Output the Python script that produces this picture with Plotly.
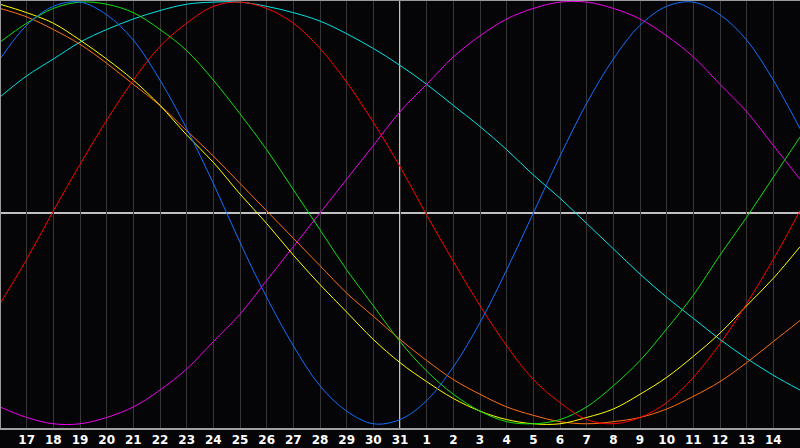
import plotly.graph_objects as go

# day-of-month labels across the window (16th .. 15th of next month)
days = ["16", "17", "18", "19", "20", "21", "22", "23", "24", "25", "26",
        "27", "28", "29", "30", "31", "1", "2", "3", "4", "5", "6", "7",
        "8", "9", "10", "11", "12", "13", "14", "15"]

# cycle values in percent, one per day
physical = [73, 89, 98, 100, 94, 82, 63, 40, 14, -14, -40, -63, -82, -94, -100, -98,
            -89, -73, -52, -27, 0, 27, 52, 73, 89, 98, 100, 94, 82, 63, 40]
emotional = [-43, -22, 1, 23, 44, 63, 79, 90, 98, 100, 97, 90, 78, 62, 43, 22,
             -1, -23, -44, -63, -79, -90, -98, -100, -97, -90, -78, -62, -43, -22, 1]
intellectual = [81, 90, 97, 100, 99, 95, 87, 77, 63, 47, 30, 11, -8, -27, -44, -61,
                -75, -86, -94, -99, -100, -98, -92, -82, -70, -55, -39, -20, -2, 17, 36]
intuitive = [-92, -97, -100, -100, -97, -92, -84, -74, -61, -48, -32, -16, 0, 16, 32, 48,
             61, 74, 84, 92, 97, 100, 100, 97, 92, 84, 74, 61, 48, 32, 16]
aesthetic = [99, 95, 90, 82, 73, 63, 51, 37, 24, 9, -5, -20, -34, -47, -60, -71,
             -80, -88, -94, -98, -100, -100, -97, -93, -86, -78, -68, -57, -44, -31, -16]
awareness = [97, 93, 87, 80, 71, 61, 51, 39, 27, 14, 1, -12, -25, -38, -49, -60,
             -70, -79, -86, -92, -96, -99, -100, -99, -97, -93, -87, -80, -71, -61, -51]
spiritual = [55, 65, 73, 81, 87, 92, 96, 99, 100, 100, 98, 95, 91, 85, 78, 70,
             61, 51, 41, 30, 18, 7, -5, -17, -29, -40, -50, -60, -69, -77, -84]

x = list(range(len(days)))
today = days.index("31")

series = [
    ("Spiritual", spiritual, "#00e4e4"),
    ("Intuitive", intuitive, "#f000f0"),
    ("Awareness", awareness, "#ff7010"),
    ("Aesthetic", aesthetic, "#ffff00"),
    ("Intellectual", intellectual, "#10e010"),
    ("Emotional", emotional, "#ff0000"),
    ("Physical", physical, "#1070ff"),
]

fig = go.Figure()
for name, vals, col in series:
    fig.add_trace(go.Scatter(
        x=x, y=vals, name=name, mode="lines",
        line=dict(color=col, width=1, shape="spline", smoothing=1),
        hoverinfo="skip"
    ))

# centre lines
fig.add_shape(type="line", xref="paper", x0=0, x1=1, yref="y", y0=0, y1=0,
              line=dict(color="white", width=1.5), layer="below")
fig.add_shape(type="line", xref="x", x0=today, x1=today, yref="paper", y0=0, y1=1,
              line=dict(color="white", width=1.5), layer="below")
# frame
fig.add_shape(type="line", xref="paper", x0=0, x1=0, yref="paper", y0=0, y1=1,
              line=dict(color="#9a9a9a", width=2))
fig.add_shape(type="line", xref="paper", x0=0, x1=1, yref="paper", y0=1, y1=1,
              line=dict(color="#9a9a9a", width=2))

fig.update_layout(
    width=800, height=448,
    margin=dict(l=0, r=0, t=0, b=20),
    paper_bgcolor="#050508",
    plot_bgcolor="#050508",
    showlegend=False,
    xaxis=dict(
        range=[0, 30], tickmode="array",
        tickvals=x[1:-1], ticktext=days[1:-1],
        showgrid=True, gridcolor="#363636", gridwidth=1,
        zeroline=False, showline=True, linecolor="#a0a0a0", linewidth=2,
        ticks="", ticklen=0,
        tickfont=dict(family="DejaVu Sans", size=12, color="white", weight="bold"),
    ),
    yaxis=dict(
        range=[-102, 101], showgrid=False, zeroline=False,
        showticklabels=False, ticks="",
    ),
)

# drop the browser's default page margin so the chart sits at 0,0
fig.write_html("out.html", config={"displayModeBar": False},
               post_script="document.body.style.margin = '0';")
